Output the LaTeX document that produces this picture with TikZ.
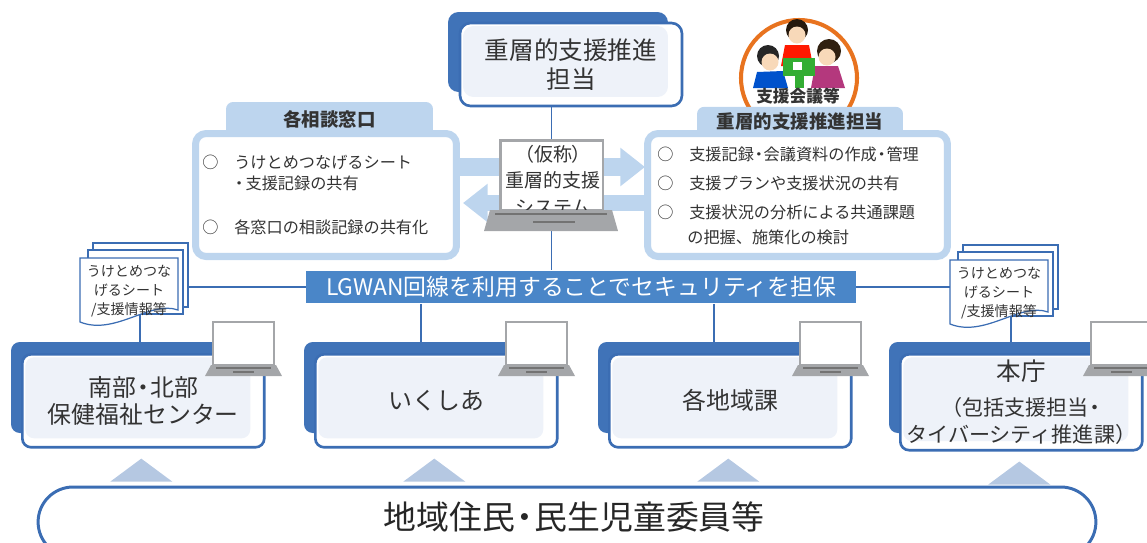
\documentclass[tikz,border=0pt]{standalone}
\usepackage{fontspec}
\setmainfont{Noto Sans CJK JP}
\usetikzlibrary{arrows.meta,backgrounds}
\definecolor{backblue}{HTML}{4073B8}
\definecolor{boxblue}{HTML}{3B6DB3}
\definecolor{barblue}{HTML}{4A86C8}
\definecolor{paleblue}{HTML}{BDD5EE}
\definecolor{tripale}{HTML}{B5C8E2}
\definecolor{lightfill}{HTML}{EEF2F9}
\definecolor{inkgray}{HTML}{333333}
\definecolor{ringorange}{HTML}{E8731F}
\definecolor{lapgray}{HTML}{A4A6A9}
\definecolor{skin}{HTML}{F8D9B9}
\tikzset{
  link/.style      = {draw=boxblue, line width=0.9pt},
  innerfill/.style = {path picture={\fill[lightfill] ([shift={(3,3)}]path picture bounding box.north west)
                        rectangle ([shift={(-14,-9)}]path picture bounding box.south east);}},
  headbox/.style   = {draw=boxblue, line width=1.5pt, fill=white, rounded corners=6pt, innerfill,
                      minimum width=4.44cm, minimum height=1.66cm, align=center, text=inkgray,
                      font=\fontsize{14}{16.5}\selectfont},
  sitebox/.style   = {draw=boxblue, line width=1.5pt, fill=white, rounded corners=5pt, innerfill,
                      minimum width=4.84cm, minimum height=1.86cm, align=center, text=inkgray,
                      font=\fontsize{13.6}{15.5}\selectfont},
  panel/.style     = {draw=paleblue, line width=4pt, fill=white, rounded corners=6pt, minimum height=2.46cm},
  tab/.style       = {fill=paleblue, rounded corners=4pt, text=inkgray,
                      font=\fontsize{10.5}{12}\selectfont\bfseries},
  item/.style      = {anchor=west, inner sep=0pt, text=inkgray, font=\fontsize{9.2}{11}\selectfont},
  flow/.style      = {draw=paleblue, -{Triangle[width=21pt,length=14pt]}},
  bar/.style       = {fill=barblue, text=white, minimum width=11cm, minimum height=0.6cm,
                      font=\fontsize{13}{15}\selectfont},
  lapscreen/.style = {draw=lapgray, line width=1.3pt, fill=white},
  lapkey/.style    = {draw=black!55, line width=0.6pt},
  page/.style      = {draw=boxblue, line width=0.7pt, fill=white},
  tagtext/.style   = {align=center, text=inkgray, inner sep=0pt, font=\fontsize{8}{10.6}\selectfont},
  resbox/.style    = {draw=boxblue, line width=1.7pt, rounded corners=0.7cm,
                      minimum width=21.16cm, minimum height=1.4cm}
}
% narrow nakaguro
\newcommand{\dt}{\kern-.2em・\kern-.2em}
% small notebook pc, corner = top left of the screen
\newcommand{\laptop}[2]{%
  \filldraw[lapscreen] (#1,#2) rectangle ++(61,43);
  \fill[lapgray] (#1-2,#2+43) -- ++(65,0) -- ++(6,11) -- ++(-77,0) -- cycle;
  \draw[lapkey] (#1+3,#2+46) -- ++(55,0);
  \draw[lapkey] (#1+20,#2+50) -- ++(21,0);
}
% office box with its dark back plate and a pc on the corner
\newcommand{\site}[4]{%
  \fill[backblue,rounded corners=5pt] (#2-10,#3-11) rectangle (#2+200,#3+80);
  \node[sitebox,anchor=north west] (#1) at (#2,#3) {#4};
  \laptop{#2+192}{#3-31}
}
% three stacked sheets
\newcommand{\tagstack}[3]{%
  \filldraw[page] (#2+13,#3-15) rectangle ++(95,64);
  \filldraw[page] (#2+8,#3-8) rectangle ++(95,64);
  \filldraw[page] (#2,#3) -- (#2+98,#3) -- (#2+98,#3+52)
    .. controls (#2+70,#3+42) and (#2+35,#3+78) .. (#2,#3+64) -- cycle;
  \node[tagtext] (#1) at (#2+49,#3+33) {うけとめつな\\げるシート\\/支援情報等};
}

\begin{document}
\begin{tikzpicture}[x=0.02cm,y=-0.02cm]
  \useasboundingbox (0,0) rectangle (1147,542);

  \fill[backblue,rounded corners=6pt] (448,12) rectangle (668,92);
  \node[headbox] (head) at (571,64.5) {重層的支援推進\\担当};

  % meeting badge
  \draw[ringorange,line width=2.3pt,fill=white] (799,78) circle [radius=58];
  \fill[black!80!brown] (797,30) circle [radius=11];
  \fill[skin] (797,35) circle [radius=8.5];
  \fill[red!80!orange] (785,45) -- (809,45) -- (813,66) -- (781,66) -- cycle;
  \fill[black!85] (768,56) circle [radius=11];
  \fill[skin] (770,62) circle [radius=8.5];
  \fill[blue!60!cyan!80!black] (757,72) -- (783,71) -- (788,88) -- (753,88) -- cycle;
  \fill[black!75!brown] (829,51) circle [radius=12];
  \fill[skin] (827,57) circle [radius=8.5];
  \fill[magenta!70!black] (815,66) -- (838,66) -- (845,88) -- (811,88) -- cycle;
  \fill[green!60!black!80] (783,58) rectangle (815,76);
  \fill[green!60!black!80] (795,76) rectangle (804,88);
  \fill[white] (793,62) rectangle (802,70);
  \node[font=\fontsize{9.5}{11}\selectfont\bfseries,text=inkgray,inner sep=1pt] (meet) at (798,96) {支援会議等};

  % the two sharing panels
  \node[panel,minimum width=5.22cm] (ask) at (326,195) {};
  \node[tab,minimum width=4.14cm,minimum height=0.68cm] (askt) at (329.5,119) {各相談窓口};
  \node[item] (ask1) at (202,162) {○\hspace{9pt}うけとめつなげるシート};
  \node[item] (ask2) at (234,183) {\kern-.2em・\kern-.1em支援記録の共有};
  \node[item] (ask3) at (202,227) {○\hspace{9pt}各窓口の相談記録の共有化};

  \node[panel,minimum width=6cm] (jus) at (797.5,195) {};
  \node[tab,minimum width=4.12cm,minimum height=0.58cm] (just) at (800,121.5) {重層的支援推進担当};
  \node[item] (jus1) at (657,154) {○\hspace{9pt}支援記録\dt 会議資料の作成\dt 管理};
  \node[item] (jus2) at (657,183) {○\hspace{9pt}支援プランや支援状況の共有};
  \node[item] (jus3) at (657,212) {○\hspace{9pt}支援状況の分析による共通課題};
  \node[item] (jus4) at (687,237) {の把握、施策化の検討};

  \coordinate (upL) at (456,167);
  \coordinate (upR) at (645,167);
  \coordinate (loL) at (463,203);
  \coordinate (loR) at (648,203);
  \draw[flow,line width=10.8pt] (upL) -- (upR);
  \draw[flow,line width=9.6pt] (loR) -- (loL);

  % system pc in the middle
  \node[lapscreen,line width=1.7pt,minimum width=2.06cm,minimum height=1.4cm] (sys) at (551.5,175) {};
  \node[align=center,text=inkgray,font=\fontsize{10.8}{15}\selectfont] (systxt) at (553,180) {（仮称）\\重層的支援\\システム};
  \fill[lapgray] (490,210) -- (612,210) -- (618,231) -- (484,231) -- cycle;
  \draw[lapkey] (495,214) -- (607,214);
  \draw[lapkey,line width=1.3pt] (533,222) -- (575,222);

  \node[bar] (lgwan) at (581,287) {LGWAN回線を利用することでセキュリティを担保};

  \tagstack{docL}{80}{258}
  \tagstack{docR}{950}{260}

  \site{b1}{21}{353}{南部\dt 北部\\保健福祉センター}
  \site{b2}{314}{353}{いくしあ}
  \site{b3}{608}{353}{各地域課}
  \site{b4}{899}{353}{{\fontsize{14}{16}\selectfont 本庁}\\[4pt]{\fontsize{12}{12}\selectfont （包括支援担当\dt}\\{\fontsize{12}{12}\selectfont タイバーシティ推進課）}}

  \foreach \b in {b1,b2,b3,b4}
    \fill[tripale] (\b.south) ++(-2,10) -- ++(31,23) -- ++(-62,0) -- cycle;

  \node[resbox] (res) at (567,522) {};
  \node[text=black!85,font=\fontsize{18.7}{22}\selectfont] (restxt) at (574,517) {地域住民\dt 民生児童委員等};

  \coordinate (tagL) at (140,300);
  \coordinate (tagR) at (1011,300);
  \coordinate (lk2) at (421,0);
  \coordinate (lk3) at (714,0);
  \begin{scope}[on background layer]
    \draw[link] (head.south -| sys.north) -- (sys.north |- lgwan.north);
    \draw[link] (lgwan.west) -- (lgwan.west -| docL.center);
    \draw[link] (lgwan.east) -- (lgwan.east -| docR.center);
    \draw[link] (tagL) -- (tagL |- b1.north);
    \draw[link] (tagR) -- (tagR |- b4.north);
    \draw[link] (lk2 |- lgwan.south) -- (lk2 |- b2.north);
    \draw[link] (lk3 |- lgwan.south) -- (lk3 |- b3.north);
  \end{scope}
\end{tikzpicture}
\end{document}
